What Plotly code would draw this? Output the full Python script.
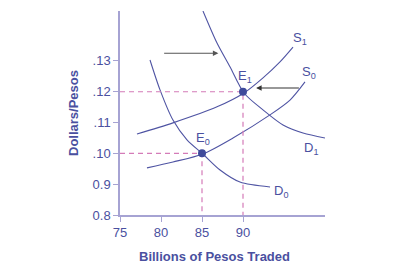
import plotly.graph_objects as go

# Curve points (Billions of pesos, dollars per peso)
d0_x = [78.66, 79.88, 81.46, 83.17, 85.1, 87.2, 89.63, 93.3]
d0_y = [0.1303, 0.1206, 0.1108, 0.1044, 0.0998, 0.0946, 0.0907, 0.0891]
d1_x = [85.12, 86.83, 88.41, 90.12, 92.44, 94.88, 97.32, 100.0]
d1_y = [0.1462, 0.1358, 0.1281, 0.1196, 0.1141, 0.1092, 0.1066, 0.1050]
s0_x = [78.29, 81.46, 85.1, 88.78, 93.29, 95.73, 97.56]
s0_y = [0.0953, 0.0972, 0.0998, 0.1050, 0.1125, 0.1173, 0.1232]
s1_x = [77.07, 81.46, 86.83, 90.12, 92.44, 94.51, 96.1]
s1_y = [0.1063, 0.1099, 0.1151, 0.1196, 0.1245, 0.1297, 0.1345]
eq_x = [85, 90]
eq_y = [0.10, 0.12]
x_ticks = [75, 80, 85, 90]
x_labels = ["75", "80", "85", "90"]
y_ticks = [0.08, 0.09, 0.10, 0.11, 0.12, 0.13]
y_labels = ["0.8", "0.9", ".10", ".11", ".12", ".13"]

curve = "#4f54a3"
axis_c = "#a6a3d3"
text_c = "#4a50a0"
pink = "#d47bb8"

fig = go.Figure()
for xs, ys in [(d0_x, d0_y), (d1_x, d1_y), (s0_x, s0_y), (s1_x, s1_y)]:
    fig.add_trace(go.Scatter(x=xs, y=ys, mode="lines",
                             line=dict(color=curve, width=1.1, shape="spline", smoothing=0.8),
                             hoverinfo="skip"))
# dashed guides
for ex, ey in zip(eq_x, eq_y):
    fig.add_trace(go.Scatter(x=[75, ex, ex], y=[ey, ey, 0.08], mode="lines",
                             line=dict(color=pink, width=1.2, dash="5px,4px"),
                             hoverinfo="skip"))
fig.add_trace(go.Scatter(x=eq_x, y=eq_y, mode="markers",
                         marker=dict(color="#3e4a9b", size=8), hoverinfo="skip"))

anns = [
    dict(x=85.1, y=0.1048, text="E<sub>0</sub>"),
    dict(x=90.2, y=0.1250, text="E<sub>1</sub>"),
    dict(x=94.6, y=0.0875, text="D<sub>0</sub>"),
    dict(x=98.3, y=0.1015, text="D<sub>1</sub>"),
    dict(x=97.0, y=0.1372, text="S<sub>1</sub>"),
    dict(x=98.0, y=0.1262, text="S<sub>0</sub>"),
]
for a in anns:
    fig.add_annotation(x=a["x"], y=a["y"], text=a["text"], showarrow=False,
                       font=dict(family="Arial, Liberation Sans", size=13, color=text_c))

fig.add_annotation(x=87.0, y=0.1325, ax=80.2, ay=0.1325, axref="x", ayref="y",
                   text="", showarrow=True, arrowhead=2, arrowsize=1, arrowwidth=1.1,
                   arrowcolor="#555555")
fig.add_annotation(x=91.6, y=0.1212, ax=97.0, ay=0.1212, axref="x", ayref="y",
                   text="", showarrow=True, arrowhead=2, arrowsize=1, arrowwidth=1.1,
                   arrowcolor="#333333")

# x-axis title placed as in the reference (slightly left of plot centre)
fig.add_annotation(x=0.463, y=-0.155, xref="paper", yref="paper", yanchor="top",
                   text="<b>Billions of Pesos Traded</b>", showarrow=False,
                   font=dict(family="Arial, Liberation Sans", size=13, color=text_c))

fig.update_layout(
    width=394, height=277, showlegend=False,
    margin=dict(l=120, r=69, t=11, b=62),
    plot_bgcolor="white", paper_bgcolor="white",
    font=dict(family="Arial, Liberation Sans", color=text_c, size=13),
    xaxis=dict(range=[75, 100], showgrid=False, zeroline=False, showline=True,
               linecolor=axis_c, linewidth=1.5, ticks="outside", tickcolor=axis_c,
               ticklen=5, tickmode="array", tickvals=x_ticks, ticktext=x_labels,
               tickfont=dict(size=13, color=text_c)),
    yaxis=dict(range=[0.08, 0.1462], showgrid=False, zeroline=False, showline=True,
               linecolor=axis_c, linewidth=1.5, ticks="outside", tickcolor=axis_c,
               ticklen=5, tickmode="array", tickvals=y_ticks, ticktext=y_labels,
               tickfont=dict(size=13, color=text_c),
               title=dict(text="<b>Dollars/Pesos</b>", standoff=11,
                          font=dict(size=13, color=text_c))),
)
fig.write_html("out.html")
